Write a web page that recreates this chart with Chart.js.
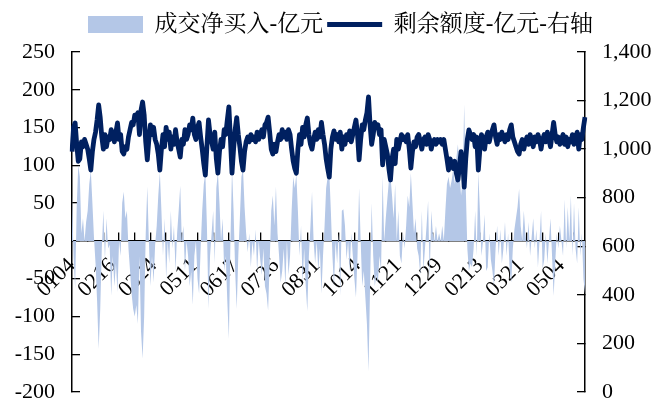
<!DOCTYPE html>
<html>
<head>
<meta charset="utf-8">
<script src="https://cdn.jsdelivr.net/npm/chart.js@4.4.0/dist/chart.umd.min.js"></script>
<style>
  html, body { margin: 0; background: #fff; }
  #wrap { width: 669px; height: 405px; }
</style>
</head>
<body>
<div id="wrap"><canvas id="chart"></canvas></div>
<script>
// --- Data (one point per trading day, tick label every 26 days) ---
const tickLabels = ['0104','0216','0324','0511','0617','0726','0831','1014','1121','1229','0213','0321','0504'];
const labelStep = 26;

// 成交净买入 (亿元), left axis, drawn as area
const netBuy = [
  60,-20,-63,45,100,85,10,30,0,25,40,75,93,50,5,-30,-80,-143,-90,-10,40,-25,30,-10,-5,-73,
  -20,-60,-30,-68,0,-20,50,65,30,40,-10,-40,-70,-90,-100,-85,-110,-20,-120,-156,-100,10,72,0,-60,-20,
  -55,-5,20,60,91,40,-20,30,-50,0,-30,40,-10,20,-40,10,40,73,0,20,-40,0,-20,-60,-40,-85,
  -20,0,-50,-70,-10,40,75,90,20,-90,-20,10,40,-30,70,91,50,0,30,-40,-20,-80,-130,0,95,40,
  -40,-90,-20,30,85,95,45,10,-15,10,-35,0,-20,15,-40,0,-25,-45,-10,-60,-70,-92,-30,40,60,20,
  72,10,-20,-55,-40,-10,-60,0,-45,-20,40,85,70,88,40,-20,20,-55,-10,-60,-93,-20,20,65,0,-30,
  0,-40,-10,-70,-20,20,70,85,91,40,-20,-60,0,-30,10,-73,40,42,20,-25,0,-40,10,-20,-50,-75,
  -20,70,0,-60,-40,-75,-110,-173,-60,50,-20,-60,-45,-55,-20,-40,86,0,30,55,80,86,60,30,75,0,
  40,-20,-30,10,-10,20,60,45,90,50,10,30,-10,-20,-45,40,-40,-10,20,53,-50,40,10,0,20,0,
  10,0,20,0,40,75,85,70,80,95,75,110,128,90,60,80,181,70,-10,-40,-30,-35,-10,40,-20,91,
  40,-20,0,35,-40,-35,10,-25,-40,-60,-10,20,-20,15,-30,-10,25,-20,10,-40,-55,-10,15,30,45,69,
  20,0,40,10,-10,25,-20,5,30,-10,15,-35,0,40,-37,-25,10,-30,0,30,-20,-73,-30,10,-10,20,
  0,-20,55,-10,45,0,60,-20,50,-10,-30,45,-20,10,-50,-70
];

// 剩余额度 (亿元), right axis
const quota = [
  990,1090,1108,1020,950,960,1030,1010,1040,1020,1000,960,914,990,1040,1070,1120,1182,1130,1050,1000,1060,1010,1050,1040,1080,
  1060,1030,1070,1108,1040,1060,990,980,1010,1000,1050,1080,1110,1100,1140,1130,1150,1060,1160,1194,1140,1030,956,1040,1100,1060,
  1090,1040,1020,980,914,1000,1060,1010,1090,1040,1070,1000,1050,1020,1080,1030,1000,967,1040,1020,1080,1040,1060,1100,1080,1128,
  1060,1040,1090,1110,1050,1000,940,893,1010,1120,1060,1030,1000,1070,960,901,990,1040,1010,1080,1060,1120,1174,1040,901,1000,
  1080,1130,1060,1010,950,914,990,1030,1050,1030,1060,1040,1050,1030,1070,1040,1060,1080,1050,1100,1110,1132,1070,1000,980,1020,
  990,1030,1060,1040,1080,1050,1070,1040,1080,1060,1000,950,920,901,1000,1060,1020,1090,1050,1100,1128,1060,1020,1000,1040,1070,
  1040,1080,1050,1110,1060,1020,960,920,885,1000,1050,1075,1040,1060,1030,1070,1000,1050,1020,1060,1040,1075,1030,1060,1090,1120,
  1060,956,1040,1100,1080,1120,1150,1215,1100,1020,1060,1110,1090,1100,1060,1080,935,1040,1010,980,920,873,960,1000,940,1040,
  1000,1030,1060,1040,1050,1030,1060,1000,922,990,1030,1010,1050,1060,1030,1000,1040,1050,1020,1060,1040,1000,1030,1040,1020,1040,
  1030,1040,1020,1040,1000,960,914,960,940,920,950,900,873,930,990,960,844,960,1040,1079,1060,1040,1060,1010,1050,914,
  1000,1060,1040,1000,1050,1070,1030,1060,1080,1100,1050,1020,1060,1040,1070,1050,1030,1060,1040,1080,1100,1050,1030,1010,990,980,
  1020,1040,1000,1030,1050,1020,1060,1040,1010,1050,1030,1060,1040,1000,1040,1060,1030,1070,1040,1010,1060,1110,1060,1030,1050,1020,
  1040,1060,1020,1050,1010,1040,1030,1060,1020,1050,1070,1000,1060,1040,1090,1132
];

// category labels: only every 26th day is shown
const days = netBuy.map((v, i) => i % labelStep === 0 ? (tickLabels[i / labelStep] || '') : '');

const serif = "'Liberation Serif', 'Times New Roman', serif";
const cjk = "'Liberation Serif', 'Noto Serif CJK SC', 'Noto Sans CJK SC', serif";
const navy = '#002060';
const lightBlue = '#b4c7e7';
const tickFont = { family: serif, size: 22 };

// small inner tick marks on the x axis every 10 days
const xTickColor = (c) => (c.index > 0 && c.index % 10 === 0) ? '#000' : 'rgba(0,0,0,0)';

// nudge the legend to where the original has it
const legendShift = {
  id: 'legendShift',
  afterLayout(chart) {
    chart.legend.left += 6;
    chart.legend.right += 6;
    chart.legend.top -= 6;
    chart.legend.bottom -= 6;
  }
};

new Chart(document.getElementById('chart'), {
  type: 'line',
  data: {
    labels: days,
    datasets: [
      {
        label: '成交净买入-亿元', data: netBuy, yAxisID: 'y',
        fill: 'origin', backgroundColor: lightBlue, borderWidth: 0, borderColor: lightBlue,
        pointRadius: 0, pointStyle: 'rect', pointBackgroundColor: lightBlue, pointBorderWidth: 0,
        tension: 0, order: 1
      },
      {
        label: '剩余额度-亿元-右轴', data: quota, yAxisID: 'y1',
        fill: false, borderColor: navy, backgroundColor: navy, borderWidth: 4.8, borderJoinStyle: 'round',
        pointRadius: 0, pointStyle: 'line', pointBorderColor: navy, pointBorderWidth: 4.8,
        tension: 0, order: 0
      }
    ]
  },
  options: {
    responsive: true,
    maintainAspectRatio: false,
    animation: false,
    layout: { padding: { top: 1, bottom: 0, left: 0, right: 0 } },
    plugins: {
      legend: {
        position: 'top',
        labels: {
          usePointStyle: true, pointStyleWidth: 55, boxHeight: 17, padding: 4,
          color: '#000', font: { family: cjk, size: 23 },
          sort: (a, b) => a.datasetIndex - b.datasetIndex
        }
      },
      tooltip: { enabled: false }
    },
    scales: {
      x: {
        position: { y: 0 },
        offset: false,
        z: 1,
        grid: { offset: false, drawOnChartArea: false, tickLength: -9, lineWidth: 1.3, color: xTickColor, tickColor: xTickColor },
        border: { color: '#000', width: 1.5 },
        ticks: { autoSkip: false, maxRotation: 45, minRotation: 45, padding: 21, color: '#000', font: tickFont },
        afterFit: (s) => { s.height = 0; }
      },
      y: {
        position: 'left', min: -200, max: 250,
        z: 1,
        grid: { drawOnChartArea: false, tickLength: -8, tickColor: '#000', lineWidth: 1.3 },
        border: { color: '#000', width: 1.5 },
        ticks: { stepSize: 50, padding: 25, color: '#000', font: tickFont },
        afterFit: (s) => { s.width = 72; s.paddingTop = 52; s.paddingBottom = 13; }
      },
      y1: {
        position: 'right', min: 0, max: 1400,
        z: 1,
        grid: { drawOnChartArea: false, tickLength: -8, tickColor: '#000', lineWidth: 1.3 },
        border: { color: '#000', width: 1.5 },
        ticks: { stepSize: 200, padding: 25, color: '#000', font: tickFont,
          callback: (v) => v.toLocaleString('en-US') },
        afterFit: (s) => { s.width = 84; s.paddingTop = 52; s.paddingBottom = 13; }
      }
    }
  },
  plugins: [legendShift]
});
</script>
</body>
</html>
